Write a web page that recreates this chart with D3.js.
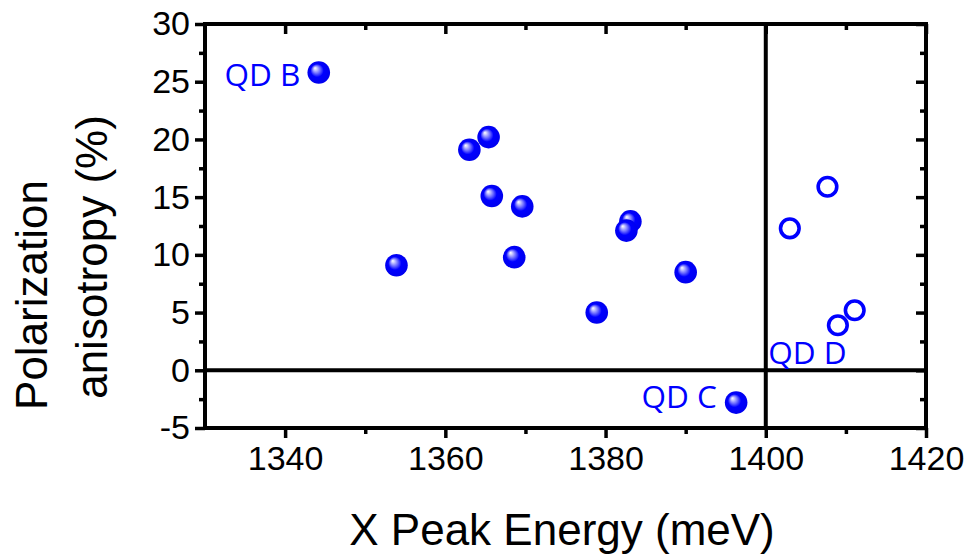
<!DOCTYPE html>
<html>
<head>
<meta charset="utf-8">
<script src="https://cdn.jsdelivr.net/npm/d3@7"></script>
<style>
  html, body { margin: 0; padding: 0; background: #fff; }
  svg { display: block; }
</style>
</head>
<body>
<div id="chart"></div>
<script>
// filled spheres (QDs below 1400 meV)
const filledE = [1344.2, 1365.4, 1363.0, 1365.8, 1369.6, 1368.6, 1353.9, 1383.1, 1382.6, 1390.0, 1378.9, 1396.3];
const filledP = [25.8, 20.2, 19.1, 15.1, 14.2, 9.8, 9.1, 12.9, 12.1, 8.5, 5.0, -2.8];
// open circles (above 1400 meV)
const openE = [1407.7, 1403.0, 1411.1, 1409.0];
const openP = [15.9, 12.3, 5.2, 3.9];

const xMajor = [1340, 1360, 1380, 1400, 1420];
const xMinor = [1350, 1370, 1390, 1410];
const yMajor = [-5, 0, 5, 10, 15, 20, 25, 30];
const yMinor = [-2.5, 2.5, 7.5, 12.5, 17.5, 22.5, 27.5];

// annotations
const labelText = ["QD B", "QD C", "QD D"];
const labelE = [1341.9, 1393.9, 1400.3];
const labelP = [24.65, -3.25, 0.56];
const labelAnchor = ["end", "end", "start"];

const width = 972, height = 557;
const m = { left: 205, right: 926, top: 24, bottom: 428 };
const blue = "#0000ff";

const svg = d3.select("#chart").append("svg")
    .attr("width", width)
    .attr("height", height);

const x = d3.scaleLinear().domain([1330, 1420]).range([m.left, m.right]);
const y = d3.scaleLinear().domain([-5, 30]).range([m.bottom, m.top]);

// sphere shading
const grad = svg.append("defs").append("radialGradient")
    .attr("id", "sphere")
    .attr("cx", "50%").attr("cy", "50%").attr("r", "50%")
    .attr("fx", "33%").attr("fy", "30%");
grad.append("stop").attr("offset", "0%").attr("stop-color", "#ffffff");
grad.append("stop").attr("offset", "12%").attr("stop-color", "#d0d0ff");
grad.append("stop").attr("offset", "35%").attr("stop-color", "#6a6aff");
grad.append("stop").attr("offset", "58%").attr("stop-color", "#0000ff");
grad.append("stop").attr("offset", "100%").attr("stop-color", "#0000ee");

const tickFont = "Liberation Sans, Arial, sans-serif";

function styleAxis(g) {
    g.select(".domain").remove();
    g.selectAll(".tick line").attr("stroke", "#000").attr("stroke-width", 3.5);
    g.selectAll(".tick text")
        .attr("fill", "#000")
        .style("font-family", tickFont)
        .style("font-size", "34px");
}

// bottom axis, ticks outward
svg.append("g")
    .attr("transform", `translate(0,${m.bottom})`)
    .call(d3.axisBottom(x).tickValues(xMajor).tickSize(10).tickPadding(8).tickFormat(d3.format("d")))
    .call(styleAxis);
svg.append("g")
    .attr("transform", `translate(0,${m.bottom})`)
    .call(d3.axisBottom(x).tickValues(xMinor).tickSize(6).tickFormat(""))
    .call(styleAxis);

// top axis, ticks inward
svg.append("g")
    .attr("transform", `translate(0,${m.top})`)
    .call(d3.axisTop(x).tickValues(xMajor).tickSize(-10).tickFormat(""))
    .call(styleAxis);
svg.append("g")
    .attr("transform", `translate(0,${m.top})`)
    .call(d3.axisTop(x).tickValues(xMinor).tickSize(-6).tickFormat(""))
    .call(styleAxis);

// left axis, ticks outward
svg.append("g")
    .attr("transform", `translate(${m.left},0)`)
    .call(d3.axisLeft(y).tickValues(yMajor).tickSize(10).tickPadding(5).tickFormat(d => d < 0 ? "-" + Math.abs(d) : d))
    .call(styleAxis);
svg.append("g")
    .attr("transform", `translate(${m.left},0)`)
    .call(d3.axisLeft(y).tickValues(yMinor).tickSize(6).tickFormat(""))
    .call(styleAxis);

// right axis, ticks inward
svg.append("g")
    .attr("transform", `translate(${m.right},0)`)
    .call(d3.axisRight(y).tickValues(yMajor).tickSize(-10).tickFormat(""))
    .call(styleAxis);
svg.append("g")
    .attr("transform", `translate(${m.right},0)`)
    .call(d3.axisRight(y).tickValues(yMinor).tickSize(-6).tickFormat(""))
    .call(styleAxis);

// zero line and 1400 meV divider
svg.append("line")
    .attr("x1", m.left).attr("x2", m.right)
    .attr("y1", y(0)).attr("y2", y(0))
    .attr("stroke", "#000").attr("stroke-width", 4);
svg.append("line")
    .attr("x1", x(1400)).attr("x2", x(1400))
    .attr("y1", m.top).attr("y2", m.bottom)
    .attr("stroke", "#000").attr("stroke-width", 4);

// frame
svg.append("rect")
    .attr("x", m.left).attr("y", m.top)
    .attr("width", m.right - m.left).attr("height", m.bottom - m.top)
    .attr("fill", "none")
    .attr("stroke", "#000")
    .attr("stroke-width", 4);

// filled spheres
svg.append("g").selectAll("circle")
    .data(d3.range(filledE.length))
    .enter().append("circle")
    .attr("cx", i => x(filledE[i]))
    .attr("cy", i => y(filledP[i]))
    .attr("r", 11.3)
    .attr("fill", "url(#sphere)");

// open circles
svg.append("g").selectAll("circle")
    .data(d3.range(openE.length))
    .enter().append("circle")
    .attr("cx", i => x(openE[i]))
    .attr("cy", i => y(openP[i]))
    .attr("r", 9.3)
    .attr("fill", "none")
    .attr("stroke", blue)
    .attr("stroke-width", 3.6);

// QD labels
svg.append("g").selectAll("text")
    .data(d3.range(labelText.length))
    .enter().append("text")
    .attr("x", i => x(labelE[i]))
    .attr("y", i => y(labelP[i]))
    .attr("text-anchor", i => labelAnchor[i])
    .attr("fill", blue)
    .style("font-family", "Open Sans, sans-serif")
    .style("font-size", "31.5px")
    .text(i => labelText[i]);

// axis titles
svg.append("text")
    .attr("x", 562).attr("y", 545)
    .attr("text-anchor", "middle")
    .style("font-family", tickFont)
    .style("font-size", "44px")
    .text("X Peak Energy (meV)");

svg.append("text")
    .attr("transform", "translate(47,295) rotate(-90)")
    .attr("text-anchor", "middle")
    .style("font-family", tickFont)
    .style("font-size", "44px")
    .text("Polarization");
svg.append("text")
    .attr("transform", "translate(107,257) rotate(-90)")
    .attr("text-anchor", "middle")
    .style("font-family", tickFont)
    .style("font-size", "44px")
    .text("anisotropy (%)");
</script>
</body>
</html>
